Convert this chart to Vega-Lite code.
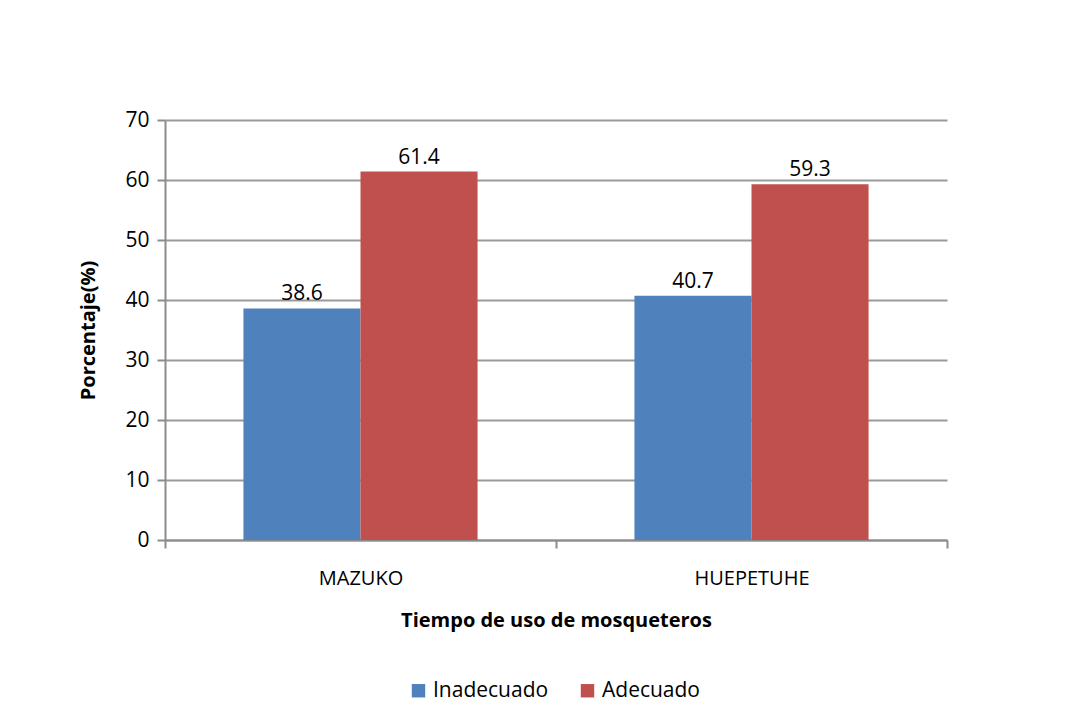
{
  "$schema": "https://vega.github.io/schema/vega-lite/v6.json",
  "width": 782,
  "height": 420,
  "autosize": "none",
  "padding": {"left": 165, "top": 120, "right": 143, "bottom": 187},
  "background": "white",
  "config": {
    "view": {"stroke": null},
    "font": "Open Sans"
  },
  "data": {
    "values": [
      {"lugar": "MAZUKO", "grupo": "Inadecuado", "valor": 38.6},
      {"lugar": "MAZUKO", "grupo": "Adecuado", "valor": 61.4},
      {"lugar": "HUEPETUHE", "grupo": "Inadecuado", "valor": 40.7},
      {"lugar": "HUEPETUHE", "grupo": "Adecuado", "valor": 59.3}
    ]
  },
  "encoding": {
    "x": {
      "field": "lugar",
      "type": "nominal",
      "sort": ["MAZUKO", "HUEPETUHE"],
      "scale": {"paddingInner": 0, "paddingOuter": 0},
      "axis": {
        "title": "Tiempo de uso de mosqueteros",
        "titleFontSize": 20,
        "titleFontWeight": "bold",
        "titleColor": "#000000",
        "titlePadding": 22,
        "labelAngle": 0,
        "labelFontSize": 20,
        "labelColor": "#000000",
        "labelPadding": 20,
        "domainColor": "#8c8c8c",
        "domainWidth": 2,
        "tickColor": "#8c8c8c",
        "tickWidth": 2,
        "tickSize": 8,
        "tickBand": "extent"
      }
    },
    "xOffset": {
      "field": "grupo",
      "type": "nominal",
      "sort": ["Inadecuado", "Adecuado"],
      "scale": {"paddingInner": 0, "paddingOuter": 0.67}
    },
    "y": {
      "field": "valor",
      "type": "quantitative",
      "scale": {"domain": [0, 70], "nice": false},
      "axis": {
        "title": "Porcentaje(%)",
        "titleFontSize": 20,
        "titleFontWeight": "bold",
        "titleColor": "#000000",
        "titlePadding": 26,
        "values": [0, 10, 20, 30, 40, 50, 60, 70],
        "labelFontSize": 21,
        "labelColor": "#000000",
        "labelPadding": 8,
        "domainColor": "#8c8c8c",
        "domainWidth": 2,
        "tickColor": "#8c8c8c",
        "tickWidth": 2,
        "tickSize": 8,
        "grid": true,
        "gridColor": "#9a9a9a",
        "gridWidth": 2
      }
    }
  },
  "layer": [
    {
      "mark": {"type": "bar"},
      "encoding": {
        "color": {
          "field": "grupo",
          "type": "nominal",
          "sort": ["Inadecuado", "Adecuado"],
          "scale": {"domain": ["Inadecuado", "Adecuado"], "range": ["#4F81BD", "#C0504D"]},
          "legend": {
            "title": null,
            "orient": "none",
            "direction": "horizontal",
            "legendX": 243,
            "legendY": 560,
            "symbolType": "square",
            "symbolSize": 180,
            "symbolStrokeWidth": 0,
            "labelFontSize": 21,
            "labelColor": "#000000",
            "labelOffset": 4,
            "columnPadding": 28
          }
        }
      }
    },
    {
      "mark": {"type": "text", "dy": -14, "fontSize": 21, "color": "#000000"},
      "encoding": {
        "text": {"field": "valor", "type": "quantitative", "format": ".1f"}
      }
    }
  ]
}
